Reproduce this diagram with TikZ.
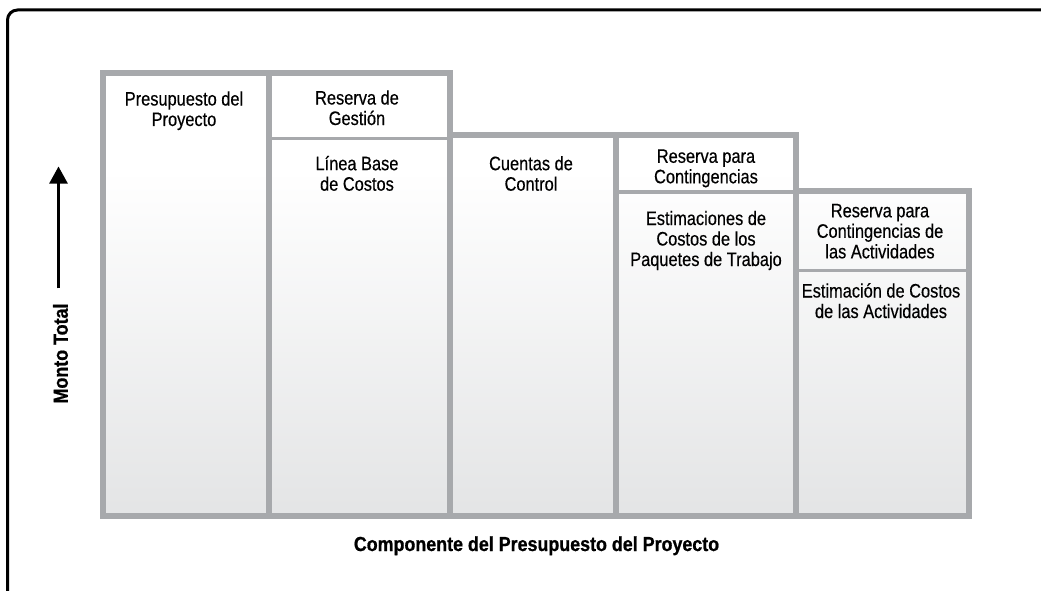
\documentclass[tikz,border=0pt]{standalone}
\usepackage{fontspec}
\setmainfont{Liberation Sans}
\newfontfamily\labfont[FakeStretch=0.84,FakeBold=0.4]{Liberation Sans}
\newfontfamily\titlefont[FakeStretch=0.88,FakeBold=0.8]{Liberation Sans}
\usetikzlibrary{arrows.meta}
\definecolor{gridgray}{HTML}{A7A9AC}
\definecolor{shbot}{HTML}{E3E4E5}
\tikzset{
  frameline/.style={draw=gridgray, line width=6pt, line join=miter},
  divider/.style={draw=gridgray, line width=3.5pt},
  celltext/.style={font=\labfont\fontsize{19.5}{20.5}\selectfont, align=center, anchor=base, inner sep=0pt},
  axislab/.style={font=\titlefont\bfseries\fontsize{20.3}{21}\selectfont, inner sep=0pt},
  axisarrow/.style={line width=2.5pt, -{Triangle[length=17pt,width=18pt]}},
  border/.style={draw=black, line width=3pt, rounded corners=10pt}
}
\begin{document}
\begin{tikzpicture}[x=1pt,y=-1pt]
\useasboundingbox (0,0) rectangle (1041,591);
% outer border
\draw[border] (7.5,600) -- (7.5,10) -- (1050,10);
% chart region
\coordinate (p1) at (103,516);
\coordinate (p2) at (103,73);
\coordinate (p3) at (449.5,73);
\coordinate (p4) at (449.5,135.5);
\coordinate (p5) at (795.8,135.5);
\coordinate (p6) at (795.8,191.3);
\coordinate (p7) at (969,191.3);
\coordinate (p8) at (969,516);
\begin{scope}
  \clip (p1) -- (p2) -- (p3) -- (p4) -- (p5) -- (p6) -- (p7) -- (p8) -- cycle;
  \fill[white] (90,60) rectangle (980,520);
  \shade[top color=white, bottom color=shbot] (90,170) rectangle (980,520);
\end{scope}
% inner horizontal dividers
\draw[divider] (269,138.3) -- (449.5,138.3);
\draw[divider] (615.8,192) -- (795.8,192);
\draw[divider, line width=3pt] (795.8,270.2) -- (969,270.2);
% inner vertical dividers
\draw[frameline] (269,73) -- (269,516);
\draw[frameline] (449.5,135.5) -- (449.5,516);
\draw[frameline] (615.8,135.5) -- (615.8,516);
\draw[frameline] (795.8,191.3) -- (795.8,516);
% outline
\draw[frameline] (p1) -- (p2) -- (p3) -- (p4) -- (p5) -- (p6) -- (p7) -- (p8) -- cycle;
% cell texts
\node[celltext] (presup) at (184,126) {Presupuesto del\\Proyecto};
\node[celltext] (resgest) at (357,125) {Reserva de\\Gestión};
\node[celltext] (lineab) at (357,190.7) {Línea Base\\de Costos};
\node[celltext] (cuentas) at (531,190.7) {Cuentas de\\Control};
\node[celltext] (rescont) at (706,183.3) {Reserva para\\Contingencias};
\node[celltext] (estpaq) at (706,266) {Estimaciones de\\Costos de los\\Paquetes de Trabajo};
\node[celltext] (resact) at (880,258.3) {Reserva para\\Contingencias de\\las Actividades};
\node[celltext] (estact) at (881,318) {Estimación de Costos\\de las Actividades};
% axis labels
\node[axislab, anchor=base] (comp) at (536.5,551) {Componente del Presupuesto del Proyecto};
\node[axislab, rotate=90] (monto) at (60.5,353.5) {Monto Total};
\coordinate (arrtip) at (58.5,166.5);
\draw[axisarrow] (monto.east -| arrtip) ++(0,-15) -- (arrtip);
\end{tikzpicture}
\end{document}
